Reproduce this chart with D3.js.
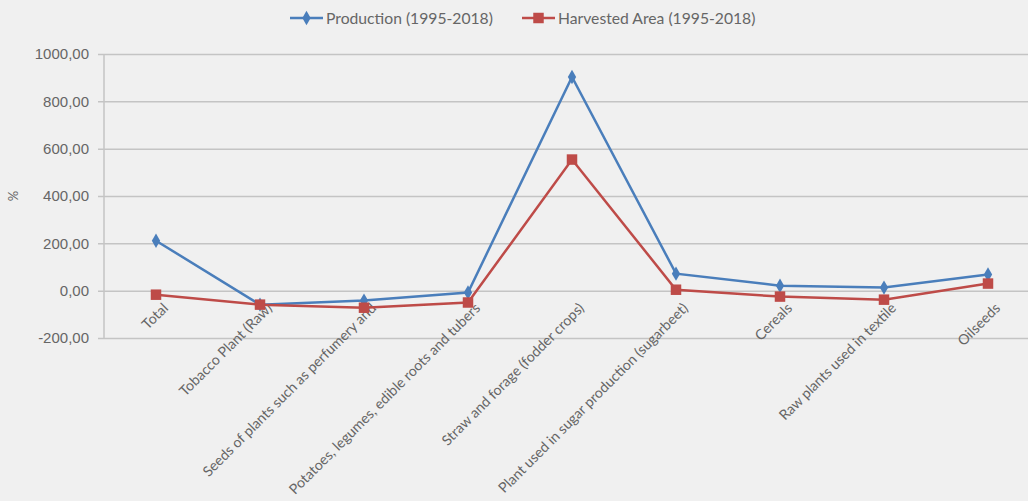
<!DOCTYPE html>
<html>
<head>
<meta charset="utf-8">
<script src="https://cdn.jsdelivr.net/npm/d3@7"></script>
<style>
  html, body { margin: 0; padding: 0; background: #f0f0f0; overflow: hidden; }
  svg { display: block; font-family: Lato, "Open Sans", sans-serif; }
</style>
</head>
<body>
<svg id="chart" width="1028" height="501"></svg>
<script>
// Crop categories along the x axis
const categories = [
  "Total",
  "Tobacco Plant (Raw)",
  "Seeds of plants such as perfumery and",
  "Potatoes, legumes, edible roots and tubers",
  "Straw and forage (fodder crops)",
  "Plant used in sugar production (sugarbeet)",
  "Cereals",
  "Raw plants used in textile",
  "Oilseeds"
];

// Percentage change, 1995-2018
const production = [211, -59, -42, -8, 903, 72, 21, 13, 68];
const harvestedArea = [-17, -59, -72, -50, 554, 4, -25, -38, 30];

const seriesNames = ["Production (1995-2018)", "Harvested Area (1995-2018)"];
const yTicks = [-200, 0, 200, 400, 600, 800, 1000];

const svg = d3.select("#chart");
const W = 1028, H = 501;
const plotLeft = 104, plotRight = 1040, plotTop = 54, plotBottom = 338;
const textColor = "#666";

svg.append("rect").attr("width", W).attr("height", H).attr("fill", "#f0f0f0");

const x = d3.scaleBand().domain(categories).range([plotLeft, plotRight]);
const y = d3.scaleLinear().domain([-200, 1000]).range([plotBottom, plotTop]);

const fmt = v => d3.format(".2f")(v).replace(".", ",").replace("\u2212", "-");

// Horizontal gridlines with tick labels
const yAxis = d3.axisLeft(y).tickValues(yTicks).tickSize(-(plotRight - plotLeft)).tickPadding(15).tickFormat(fmt);
const gy = svg.append("g").attr("transform", `translate(${plotLeft},0)`).call(yAxis);
gy.select(".domain").remove();
gy.selectAll(".tick line").attr("stroke", "#c4c4c4").attr("stroke-width", 1.5).attr("x1", -6);
gy.selectAll(".tick text").attr("fill", textColor).attr("font-size", 15).attr("font-family", null);

// Vertical axis line
svg.append("line")
  .attr("x1", plotLeft).attr("x2", plotLeft)
  .attr("y1", plotTop).attr("y2", plotBottom)
  .attr("stroke", "#c4c4c4").attr("stroke-width", 1.5);

// Axis title
svg.append("text")
  .attr("transform", `translate(15,${y(400)}) rotate(-90)`)
  .attr("text-anchor", "middle").attr("dominant-baseline", "middle")
  .attr("fill", textColor).attr("font-size", 13)
  .text("%");

// Category labels, slanted
const cx = d => x(d) + x.bandwidth() / 2;
svg.append("g").selectAll("text")
  .data(categories)
  .join("text")
  .attr("transform", d => `translate(${cx(d) + 6},${plotBottom - 36}) rotate(-45)`)
  .attr("text-anchor", "end")
  .attr("dy", "0.7em")
  .attr("fill", textColor).attr("font-size", 14.2)
  .text(d => d);

const series = [
  { name: seriesNames[0], values: production, color: "#4a7ebb", marker: d3.symbolDiamond, size: 60 },
  { name: seriesNames[1], values: harvestedArea, color: "#be4b48", marker: d3.symbolSquare, size: 110 }
];

const line = d3.line().x((d, i) => cx(categories[i])).y(d => y(d));

series.forEach(s => {
  svg.append("path")
    .datum(s.values)
    .attr("d", line)
    .attr("fill", "none")
    .attr("stroke", s.color)
    .attr("stroke-width", 2.5);
  svg.append("g").selectAll("path")
    .data(s.values)
    .join("path")
    .attr("transform", (d, i) => `translate(${cx(categories[i])},${y(d)})`)
    .attr("d", d3.symbol(s.marker, s.size))
    .attr("fill", s.color);
});

// Legend
const legendItems = [
  { s: series[0], x0: 290 },
  { s: series[1], x0: 522 }
];
legendItems.forEach(({ s, x0 }) => {
  const g = svg.append("g").attr("transform", `translate(${x0},18)`);
  g.append("line").attr("x1", 0).attr("x2", 33).attr("stroke", s.color).attr("stroke-width", 2.5);
  g.append("path").attr("transform", "translate(16.5,0)").attr("d", d3.symbol(s.marker, s.size)).attr("fill", s.color);
  g.append("text").attr("x", 36).attr("dy", "0.35em").attr("fill", textColor).attr("font-size", 15.7).text(s.name);
});
</script>
</body>
</html>
